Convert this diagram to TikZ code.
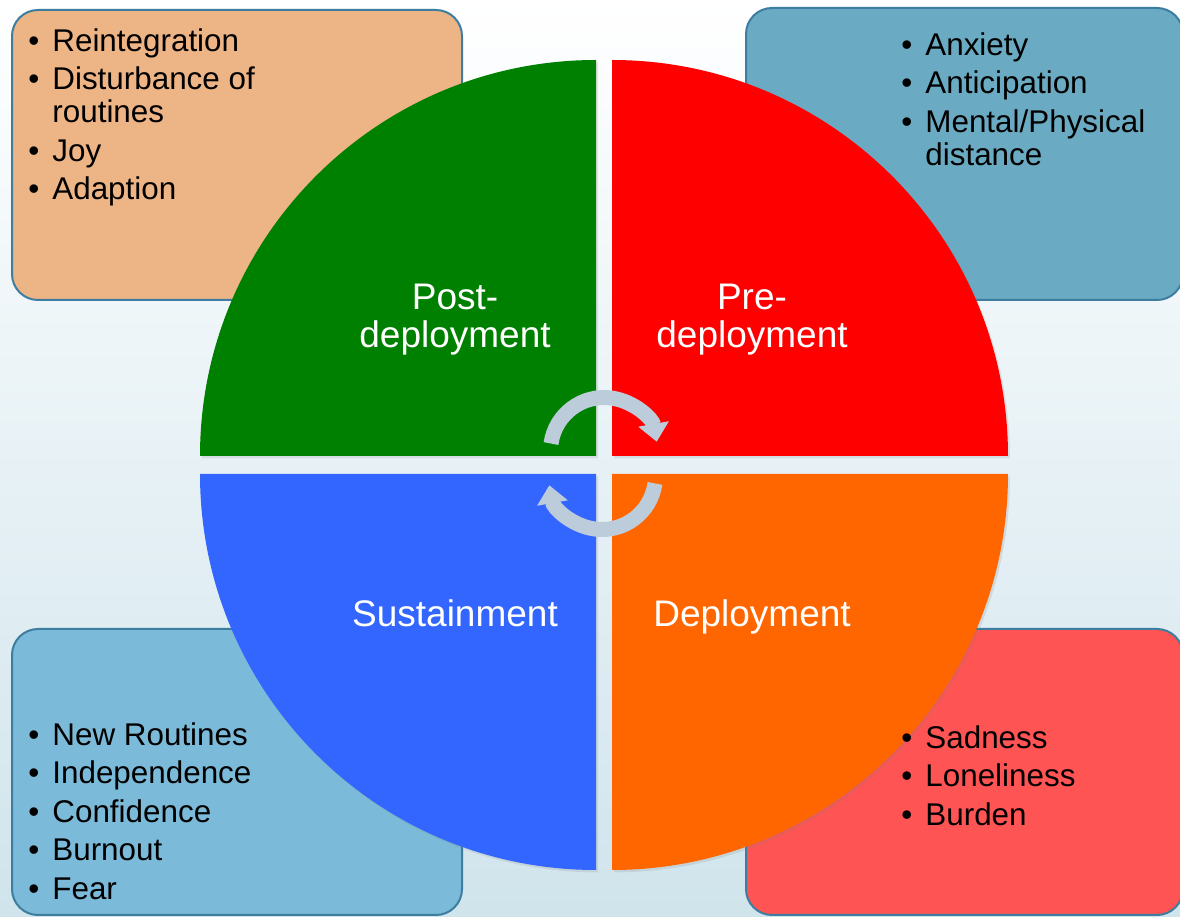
\documentclass[tikz,border=0pt]{standalone}
\usepackage{fontspec}
\setmainfont{Liberation Sans}
\usetikzlibrary{arrows.meta,shadows}

\definecolor{pfirsich}{RGB}{237,180,133}
\definecolor{stahlblau}{RGB}{106,170,194}
\definecolor{hellblau}{RGB}{123,186,216}
\definecolor{lachs}{RGB}{255,84,84}
\definecolor{rahmen}{RGB}{60,125,160}
\definecolor{gruen}{RGB}{0,128,0}
\definecolor{rot}{RGB}{255,0,0}
\definecolor{blau}{RGB}{51,102,255}
\definecolor{orangeton}{RGB}{255,102,0}
\definecolor{pfeil}{RGB}{188,204,218}
\definecolor{hgunten}{RGB}{208,228,236}

\newcommand{\pkt}{\makebox[12pt][l]{\textbullet}}

\begin{document}
\begin{tikzpicture}[x=0.5pt,y=0.5pt,
    kasten/.style={draw=rahmen,line width=1pt,rounded corners=13pt},
    viertel/.style={drop shadow={opacity=0.18,shadow xshift=1pt,shadow yshift=-1.2pt}},
    phase/.style={text=white,align=center,inner sep=0pt,font=\fontsize{18.5pt}{19pt}\selectfont},
    liste/.style={anchor=north west,align=left,inner sep=0pt,font=\fontsize{15.7pt}{16.5pt}\selectfont},
    kreispfeil/.style={draw=pfeil,line width=7.5pt,-{Triangle[width=15pt,length=9pt]}}]
  % Rahmen, Hintergrund
  \useasboundingbox (0,0) rectangle (1180,917);
  \clip (0,0) rectangle (1180,917);
  \shade[top color=white,bottom color=hgunten] (0,0) rectangle (1180,917);
  % Kaesten
  \draw[kasten,fill=pfirsich] (12,617) rectangle (462,907);
  \draw[kasten,fill=stahlblau] (746,617) rectangle (1183,909);
  \draw[kasten,fill=hellblau] (12,2) rectangle (462,288);
  \draw[kasten,fill=lachs] (746,2) rectangle (1183,288);
  % Listen
  \node[liste] (lpost) at (28,889) {\pkt Reintegration\\[2.75pt]
    \pkt Disturbance of\\ \hspace*{12pt}routines\\[2.75pt]
    \pkt Joy\\[2.75pt] \pkt Adaption};
  \node[liste] (lpre) at (901,885) {\pkt Anxiety\\[2.75pt]
    \pkt Anticipation\\[2.75pt]
    \pkt Mental/Physical\\ \hspace*{12pt}distance};
  \node[liste] (lsust) at (28,195) {\pkt New Routines\\[2.75pt]
    \pkt Independence\\[2.75pt] \pkt Confidence\\[2.75pt]
    \pkt Burnout\\[2.75pt] \pkt Fear};
  % Viertelkreise
  \fill[viertel,fill=gruen] (596,461) -- (200,461) arc[start angle=180,end angle=90,radius=198pt] -- cycle;
  \fill[viertel,fill=rot] (612,461) -- (1008,461) arc[start angle=0,end angle=90,radius=198pt] -- cycle;
  \fill[viertel,fill=blau] (596,443) -- (200,443) arc[start angle=180,end angle=270,radius=198pt] -- cycle;
  \fill[viertel,fill=orangeton] (612,443) -- (1008,443) arc[start angle=0,end angle=-90,radius=198pt] -- cycle;
  % Liste ueber dem Viertelkreis
  \node[liste] (ldep) at (901,192) {\pkt Sadness\\[2.75pt]
    \pkt Loneliness\\[2.75pt] \pkt Burden};
  % Phasen
  \node[phase] (post) at (455,597) {Post-\\deployment};
  \node[phase] (pre) at (752,597) {Pre-\\deployment};
  \node[phase,anchor=base] (sust) at (455,290) {Sustainment};
  \node[phase,anchor=base] (dep) at (752,290) {Deployment};
  % Kreispfeile
  \coordinate (obenmitte) at (604,466);
  \coordinate (untenmitte) at (602,441);
  \draw[kreispfeil] ([shift={(172:26.75pt)}]obenmitte) arc[start angle=172,end angle=10,radius=26.75pt];
  \draw[kreispfeil] ([shift={(-8:26.75pt)}]untenmitte) arc[start angle=-8,end angle=-170,radius=26.75pt];
\end{tikzpicture}
\end{document}
